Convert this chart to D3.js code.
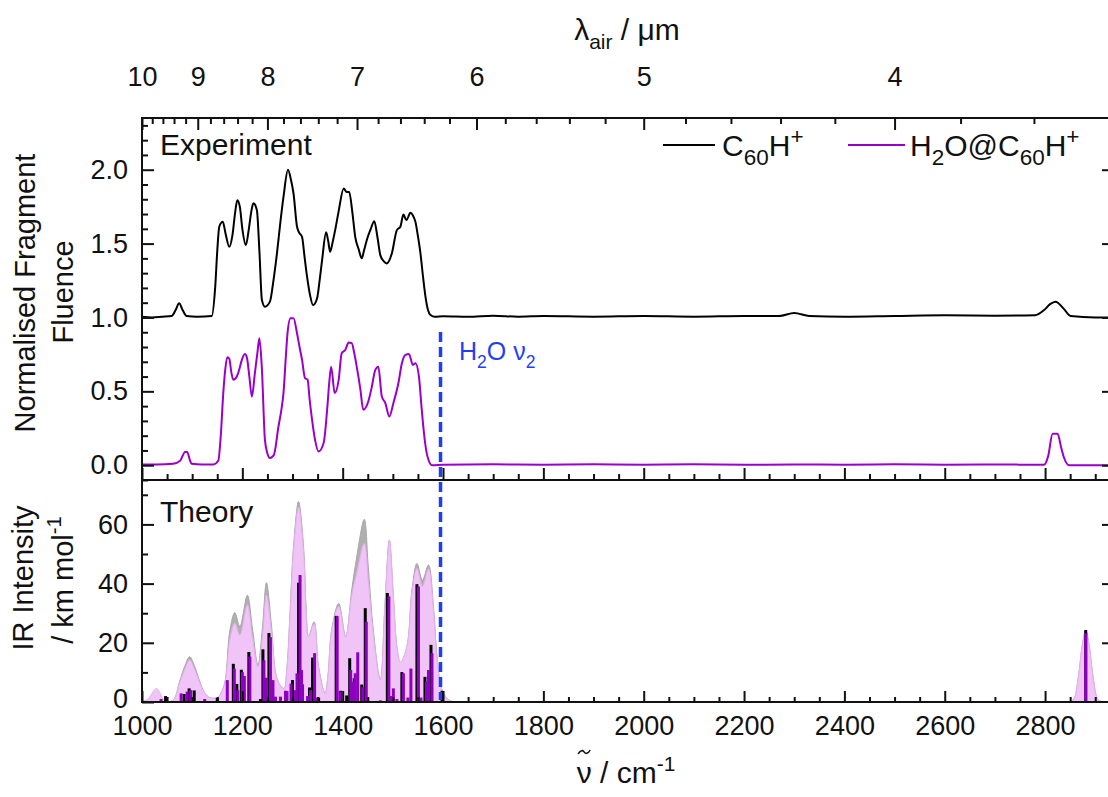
<!DOCTYPE html>
<html><head><meta charset="utf-8">
<script src="https://cdn.jsdelivr.net/npm/d3@7"></script>
<style>
body{margin:0;background:#fff}
svg{display:block}
text{font-family:"Liberation Sans",Arial,sans-serif;fill:#111}
</style>
</head><body>
<svg id="c" width="1108" height="797"></svg>
<script>
// ---------------- DATA ----------------
// Experiment: C60H+ (offset +1)
const c60Nu  = [1000,1020,1040,1059,1067,1074,1081,1089,1110,1139,1146,1150,1154,1161,1167,1174,1180,1186,1190,1195,1200,1207,1213,1218,1222,1229,1234,1239,1245,1255,1262,1269,1276,1282,1291,1297,1302,1309,1314,1319,1324,1329,1335,1341,1349,1354,1359,1367,1371,1375,1380,1385,1392,1402,1408,1413,1419,1425,1432,1438,1443,1449,1456,1463,1469,1475,1482,1488,1498,1508,1515,1521,1527,1535,1540,1545,1550,1555,1560,1565,1570,1575,1584,1600,1650,1700,1750,1800,1900,2000,2100,2200,2270,2300,2330,2400,2500,2600,2700,2780,2798,2810,2821,2837,2851,2900,2929];
const c60Val = [1.005,1.0,1.005,1.01,1.05,1.096,1.05,1.01,1.005,1.01,1.21,1.45,1.614,1.647,1.56,1.478,1.55,1.72,1.794,1.75,1.6,1.49,1.6,1.72,1.773,1.726,1.45,1.118,1.073,1.107,1.25,1.434,1.65,1.816,2.0,1.93,1.839,1.614,1.57,1.546,1.41,1.276,1.15,1.084,1.13,1.25,1.389,1.576,1.52,1.445,1.51,1.591,1.72,1.873,1.85,1.85,1.72,1.546,1.46,1.4,1.46,1.535,1.6,1.652,1.55,1.422,1.38,1.366,1.434,1.591,1.614,1.697,1.659,1.708,1.69,1.647,1.55,1.434,1.28,1.141,1.05,1.017,1.005,1.008,1.005,1.012,1.005,1.01,1.005,1.01,1.005,1.01,1.01,1.03,1.01,1.005,1.01,1.015,1.012,1.015,1.05,1.09,1.107,1.06,1.01,1.0,1.0];
// Experiment: H2O@C60H+
const h2oNu  = [1000,1030,1062,1076,1086,1090,1095,1099,1120,1142,1152,1157,1162,1166,1170,1174,1178,1182,1189,1194,1199,1205,1209,1214,1219,1225,1230,1234,1239,1245,1250,1255,1263,1272,1278,1282,1287,1290,1296,1302,1309,1314,1319,1325,1330,1334,1339,1345,1352,1362,1369,1373,1377,1384,1392,1398,1405,1412,1418,1423,1428,1435,1441,1451,1458,1465,1471,1478,1485,1493,1501,1511,1518,1525,1532,1540,1545,1552,1557,1562,1567,1571,1578,1600,1700,1800,1900,2000,2100,2200,2300,2400,2500,2600,2700,2798,2806,2815,2825,2832,2838,2848,2929];
const h2oVal = [0.005,0.005,0.01,0.03,0.09,0.09,0.04,0.01,0.005,0.005,0.03,0.2,0.488,0.65,0.731,0.72,0.63,0.578,0.6,0.65,0.713,0.753,0.73,0.6,0.465,0.623,0.76,0.859,0.65,0.172,0.08,0.049,0.071,0.262,0.38,0.488,0.75,0.893,0.995,0.995,0.893,0.8,0.713,0.589,0.58,0.45,0.307,0.17,0.093,0.15,0.375,0.55,0.667,0.488,0.578,0.758,0.78,0.83,0.826,0.76,0.667,0.52,0.375,0.431,0.53,0.645,0.667,0.465,0.42,0.33,0.42,0.555,0.69,0.747,0.753,0.679,0.69,0.6,0.4,0.218,0.09,0.037,0.0,0.003,0.006,0.003,0.006,0.004,0.006,0.003,0.005,0.004,0.006,0.004,0.005,0.003,0.06,0.213,0.213,0.12,0.049,0.0,0.0];
// Theory: broadened envelopes
const envNu  = [1000,1012,1022,1029,1036,1045,1062,1075,1085,1095,1105,1115,1125,1135,1151,1160,1166,1175,1185,1195,1210,1220,1231,1240,1248,1258,1266,1273,1283,1289,1295,1302,1312,1322,1327,1332,1343,1352,1365,1371,1378,1392,1406,1418,1428,1443,1451,1461,1475,1484,1493,1501,1508,1515,1528,1538,1548,1559,1571,1581,1588,1598,1611,1625,2845,2857,2866,2874,2881,2888,2896,2905,2915];
const envC60 = [0.3,0.5,2.5,4.0,2.5,0.4,0.6,7,12,15.3,12,7,3,1.5,1.5,4,7.4,24,30.2,25.5,36.1,25,12.5,25,40.3,26,10,6.3,4.5,11.9,30,52.5,67.7,52.5,32.2,22.1,27.1,11.9,2.9,9.6,24.3,33.3,22.1,37.8,49,61.7,45.7,24.3,7.4,32.2,54.7,35.6,18.7,13.1,18.7,37.8,46.8,41.2,46.3,32.2,15.3,4,0.8,0,0,1,8,19,24.3,19,8,1,0];
const envH2O = [0.3,1.0,3.5,4.6,3.0,0.4,0.6,6.5,11,14.2,11,6.5,3,1.5,1.5,4,7.0,21,26.6,22.6,32.8,22,12,22,36.1,24,10,6.3,4.5,11.5,29,51,65.8,51,31,22.1,26.5,11.5,2.9,9.5,24,32.3,22,36.1,43.5,53.6,41.2,23,7.4,32,54.7,35.6,18.7,13.5,18.7,37,45.1,39,44.9,31,15,4,0.8,0,0,1,8,19,24,19,8,1,0];
// Theory: stick spectra
const stickC60Nu  = [1047,1084,1094,1104,1150,1182,1189,1198,1213,1236,1241,1253,1260,1300,1312,1334,1340,1352,1387,1396,1408,1414,1423,1438,1445,1448,1475,1489,1496,1518,1548,1564,1576,1598,2881];
const stickC60Val = [2,2.7,4.6,3.9,1.4,12.9,6.1,10.9,16.9,1,17.8,23.3,1.5,7.4,40.3,4.9,15.0,1.5,29.1,3.8,2.2,14.8,8.0,5.9,31.7,1.5,0.5,36.8,1.8,10.1,39.8,8.5,19.3,3.8,24.3];
const stickH2ONu  = [1038,1078,1090,1097,1125,1170,1184,1191,1200,1204,1215,1243,1248,1256,1261,1266,1276,1286,1289,1297,1306,1309,1315,1318,1320,1330,1336,1344,1348,1389,1395,1416,1421,1425,1430,1440,1447,1492,1496,1501,1508,1521,1530,1536,1551,1556,1567,1571,1578,2881];
const stickH2OVal = [1.0,2.9,3.5,4.0,1.0,7.4,11.3,4,10.1,8.8,15.3,14.1,8.2,21.9,7.4,1.8,1.8,3.8,3.7,6.2,4.0,9.7,42.9,10.8,6,2,4.0,16.5,1.5,29.0,3.5,10.8,6.8,9.7,16.8,5.0,27.1,35.7,2.0,4.6,1,9.7,1.5,11.3,39.0,1.5,7,10.8,16.5,23.2];
// Axis ticks
const nuTicks   = [1000,1200,1400,1600,1800,2000,2200,2400,2600,2800];
const lamTicks  = [10,9,8,7,6,5,4];
const expTicks  = [0.0,0.5,1.0,1.5,2.0];
const thTicks   = [0,20,40,60];
const h2oBendNu = 1595;

// ---------------- LAYOUT ----------------
const L=142,R=1110,T=118,MID=480,B=702;
const svg=d3.select('#c');
const x=d3.scaleLinear().domain([1000,2929.4]).range([L,R]);
const y1=d3.scaleLinear().domain([-0.1,2.35]).range([MID,T]);
const y2=d3.scaleLinear().domain([0,75]).range([B,MID]);
const PURPLE='#9a00cc', STICKP='#8e00c0', BLUE='#1f3ff5';

const defs=svg.append('defs');
defs.append('clipPath').attr('id','cTop').append('rect').attr('x',L).attr('y',T).attr('width',R-L).attr('height',MID-T);
defs.append('clipPath').attr('id','cBot').append('rect').attr('x',L).attr('y',MID).attr('width',R-L).attr('height',B-MID);

// ---- Theory panel ----
const gBot=svg.append('g').attr('clip-path','url(#cBot)');
const area=(vals)=>d3.area().x((d,i)=>x(envNu[i])).y0(B).y1((d,i)=>Math.min(B,y2(vals[i]))).curve(d3.curveCatmullRom.alpha(0.5))(vals);
gBot.append('path').attr('d',area(envC60)).attr('fill','#b0b0b0').attr('stroke','#a6a6a6').attr('stroke-width',1);
gBot.append('path').attr('d',area(envH2O)).attr('fill','#f0c4f7').attr('stroke','#e6b0f0').attr('stroke-width',1);
gBot.selectAll('rect.sc').data(stickC60Nu).join('rect').attr('class','sc')
  .attr('x',d=>x(d)-1.5).attr('width',3)
  .attr('y',(d,i)=>y2(stickC60Val[i])).attr('height',(d,i)=>B-y2(stickC60Val[i])).attr('fill','#000');
gBot.selectAll('rect.sh').data(stickH2ONu).join('rect').attr('class','sh')
  .attr('x',d=>x(d)-1.5).attr('width',3)
  .attr('y',(d,i)=>y2(stickH2OVal[i])).attr('height',(d,i)=>B-y2(stickH2OVal[i])).attr('fill',STICKP);

// ---- Experiment panel ----
const gTop=svg.append('g').attr('clip-path','url(#cTop)');
const line=(nu,val)=>d3.line().x((d,i)=>x(nu[i])).y((d,i)=>y1(val[i])).curve(d3.curveMonotoneX)(val);
gTop.append('path').attr('d',line(c60Nu,c60Val)).attr('fill','none').attr('stroke','#000').attr('stroke-width',2);
gTop.append('path').attr('d',line(h2oNu,h2oVal)).attr('fill','none').attr('stroke',PURPLE).attr('stroke-width',2);

// dashed H2O bend line
svg.append('line').attr('x1',x(h2oBendNu)).attr('x2',x(h2oBendNu)).attr('y1',332).attr('y2',700)
  .attr('stroke',BLUE).attr('stroke-width',3.5).attr('stroke-dasharray','10,5');

// ---- Axes ----
const tickStyle=g=>{g.select('.domain').remove();g.selectAll('line').attr('stroke','#111').attr('stroke-width',2);g.selectAll('text').attr('font-size',27).attr('fill','#111').attr('font-family','"Liberation Sans",Arial,sans-serif');};
const minorNu=d3.range(1050,2929,50).filter(v=>v%200!==0);
svg.append('g').attr('transform',`translate(0,${B})`).call(d3.axisBottom(x).tickValues(nuTicks).tickFormat(d3.format('d')).tickSizeInner(-11).tickSizeOuter(0).tickPadding(14)).call(tickStyle);
svg.append('g').attr('transform',`translate(0,${B})`).call(d3.axisBottom(x).tickValues(minorNu).tickFormat('').tickSizeInner(-5).tickSizeOuter(0)).call(tickStyle);
svg.append('g').attr('transform',`translate(0,${MID})`).call(d3.axisBottom(x).tickValues(nuTicks).tickFormat('').tickSizeInner(-12).tickSizeOuter(0)).call(tickStyle);
svg.append('g').attr('transform',`translate(0,${MID})`).call(d3.axisBottom(x).tickValues(minorNu).tickFormat('').tickSizeInner(-6).tickSizeOuter(0)).call(tickStyle);
// top wavelength axis (lambda -> wavenumber)
const lam=l=>x(1e4/l); lam.range=()=>x.range(); lam.copy=()=>lam; lam.domain=()=>[10,1e4/2929.4];
const lamMinor=d3.range(98,34,-2).map(v=>v/10).filter(v=>Math.abs(v-Math.round(v))>1e-6);
svg.append('g').attr('transform',`translate(0,${T})`).call(d3.axisTop(lam).tickValues(lamTicks).tickFormat(d3.format('d')).tickSizeInner(-12).tickSizeOuter(0).tickPadding(32)).call(tickStyle);
svg.append('g').attr('transform',`translate(0,${T})`).call(d3.axisTop(lam).tickValues(lamMinor).tickFormat('').tickSizeInner(-6).tickSizeOuter(0)).call(tickStyle);
// left axes
const minorExp=d3.range(-1,24).map(v=>v/10).filter(v=>Math.abs(v*2-Math.round(v*2))>1e-6);
svg.append('g').attr('transform',`translate(${L},0)`).call(d3.axisLeft(y1).tickValues(expTicks).tickFormat(d3.format('.1f')).tickSizeInner(-12).tickSizeOuter(0).tickPadding(14)).call(tickStyle);
svg.append('g').attr('transform',`translate(${L},0)`).call(d3.axisLeft(y1).tickValues(minorExp).tickFormat('').tickSizeInner(-6).tickSizeOuter(0)).call(tickStyle);
svg.append('g').attr('transform',`translate(${L},0)`).call(d3.axisLeft(y2).tickValues(thTicks).tickFormat(d3.format('d')).tickSizeInner(-12).tickSizeOuter(0).tickPadding(14)).call(tickStyle)
  .selectAll('text').filter(d=>d===0).attr('dy','0.2em');
svg.append('g').attr('transform',`translate(${L},0)`).call(d3.axisLeft(y2).tickValues([10,30,50,70]).tickFormat('').tickSizeInner(-6).tickSizeOuter(0)).call(tickStyle);
// right axes
svg.append('g').attr('transform',`translate(${R},0)`).call(d3.axisRight(y1).tickValues(expTicks).tickFormat('').tickSizeInner(-8).tickSizeOuter(0)).call(tickStyle);
svg.append('g').attr('transform',`translate(${R},0)`).call(d3.axisRight(y2).tickValues([20,40,60]).tickFormat('').tickSizeInner(-8).tickSizeOuter(0)).call(tickStyle);

// frame
svg.append('rect').attr('x',L).attr('y',T).attr('width',R-L).attr('height',B-T).attr('fill','none').attr('stroke','#111').attr('stroke-width',2);
svg.append('line').attr('x1',L).attr('x2',R).attr('y1',MID).attr('y2',MID).attr('stroke','#111').attr('stroke-width',2);

// ---- Text helpers ----
function rich(g,parts,size,ratio){
  ratio=ratio||0.7;
  const t=g.append('text').attr('font-size',size);
  let cur=0;
  parts.forEach(([s,k])=>{
    const off=k==='sub'?size*0.3:k==='sup'?-size*0.4:0;
    t.append('tspan').text(s).attr('dy',off-cur).attr('font-size',k==='n'?size:size*ratio);
    cur=off;
  });
  return t;
}
svg.append('text').attr('x',160).attr('y',155).attr('font-size',30).text('Experiment');
svg.append('text').attr('x',160).attr('y',522).attr('font-size',30).text('Theory');

// legend
svg.append('line').attr('x1',663).attr('x2',715).attr('y1',145).attr('y2',145).attr('stroke','#000').attr('stroke-width',2);
rich(svg.append('g').attr('transform','translate(722,156)'),[['C','n'],['60','sub'],['H','n'],['+','sup']],30,0.75);
svg.append('line').attr('x1',848).attr('x2',905).attr('y1',145).attr('y2',145).attr('stroke',PURPLE).attr('stroke-width',2);
rich(svg.append('g').attr('transform','translate(910,156)'),[['H','n'],['2','sub'],['O@C','n'],['60','sub'],['H','n'],['+','sup']],30,0.75);

// H2O nu2 label
rich(svg.append('g').attr('transform','translate(459,360)'),[['H','n'],['2','sub'],['O ν','n'],['2','sub']],25).style('fill',BLUE).selectAll('tspan').style('fill',BLUE);

// top title
rich(svg.append('g').attr('transform','translate(627,40)'),[['λ','n'],['air','sub'],[' / μm','n']],30).attr('text-anchor','middle');

// bottom title: nu with tilde (drawn as a small wave) above
const btG=svg.append('g').attr('transform','translate(626,783)');
const bt=rich(btG,[['ν / cm','n'],['-1','sup']],30).attr('text-anchor','middle');
const ex=bt.node().getExtentOfChar(0);
const tcx=ex.x+ex.width/2, tcy=ex.y-4;
btG.append('path')
  .attr('d',`M${tcx-6},${tcy+2} C${tcx-4},${tcy-2} ${tcx-1},${tcy-2} ${tcx},${tcy} S${tcx+4},${tcy+2} ${tcx+6},${tcy-2}`)
  .attr('fill','none').attr('stroke','#111').attr('stroke-width',1.6);

// y titles
function ytitle(cx,cy,parts){
  const g=svg.append('g').attr('transform',`translate(${cx},${cy}) rotate(-90)`);
  return rich(g,parts,29).attr('text-anchor','middle');
}
ytitle(35,293,[['Normalised Fragment','n']]);
ytitle(73,292,[['Fluence','n']]);
ytitle(33,578,[['IR Intensity','n']]);
ytitle(73,580,[['/ km mol','n'],['-1','sup']]);
</script>
</body></html>
